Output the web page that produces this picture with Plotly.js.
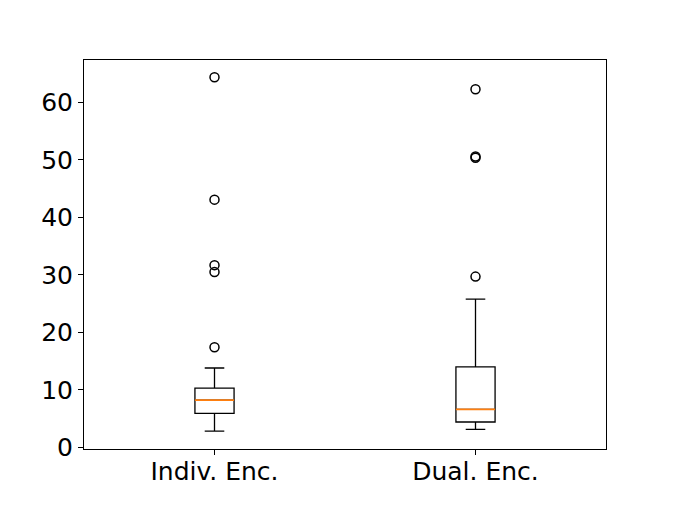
<!DOCTYPE html>
<html>
<head>
<meta charset="utf-8">
<script src="https://cdn.plot.ly/plotly-3.0.1.min.js"></script>
<style>
  body { margin: 0; background: #fff; }
  #chart { width: 674px; height: 505px; }
</style>
</head>
<body>
<div id="chart"></div>
<script>
// box stats
const positions = [1, 2];
const groupNames = ['Indiv. Enc.', 'Dual. Enc.'];
const lowerWhisker = [2.8, 3.1];
const q1Values = [5.9, 4.4];
const medianValues = [8.2, 6.6];
const q3Values = [10.3, 14.0];
const upperWhisker = [13.8, 25.8];

// fliers for each box
const outliersIndiv = [17.4, 30.5, 31.7, 43.1, 64.4];
const outliersDual = [29.7, 50.4, 50.6, 62.3];

const boxWidth = 0.15;

const traces = [];

// the black boxes
traces.push({
    type: 'box',
    x: positions,
    q1: q1Values,
    median: medianValues,
    q3: q3Values,
    lowerfence: lowerWhisker,
    upperfence: upperWhisker,
    width: boxWidth,
    whiskerwidth: 0.5,
    fillcolor: 'rgba(0,0,0,0)',
    line: { color: '#000000', width: 1.3 },
    boxpoints: false,
    hoverinfo: 'skip',
    showlegend: false
});

// orange median lines, drawn as flat boxes on top
traces.push({
    type: 'box',
    x: positions,
    q1: medianValues,
    median: medianValues,
    q3: medianValues,
    lowerfence: medianValues,
    upperfence: medianValues,
    width: boxWidth,
    whiskerwidth: 0,
    fillcolor: 'rgba(0,0,0,0)',
    line: { color: '#ff7f0e', width: 1.6 },
    boxpoints: false,
    hoverinfo: 'skip',
    showlegend: false
});

// fliers
const flierStyle = {
    type: 'scatter',
    mode: 'markers',
    marker: { symbol: 'circle-open', size: 9, color: '#000000', line: { width: 1.5, color: '#000000' } },
    hoverinfo: 'y',
    showlegend: false
};
traces.push(Object.assign({}, flierStyle, {
    x: outliersIndiv.map(() => positions[0]),
    y: outliersIndiv
}));
traces.push(Object.assign({}, flierStyle, {
    x: outliersDual.map(() => positions[1]),
    y: outliersDual
}));

const tickFont = { family: 'DejaVu Sans, sans-serif', size: 25, color: '#000000' };

const layout = {
    width: 674, height: 505,
    paper_bgcolor: '#ffffff', plot_bgcolor: '#ffffff',
    margin: { l: 84, r: 68, t: 60, b: 56 },
    boxmode: 'overlay',
    showlegend: false,
    xaxis: {
        range: [0.5, 2.5],
        tickvals: positions,
        ticktext: groupNames,
        ticks: 'outside', ticklen: 5, tickwidth: 1, tickcolor: '#000',
        ticklabelstandoff: -5,
        showline: true, mirror: true, linecolor: '#000', linewidth: 1,
        showgrid: false, zeroline: false,
        tickfont: tickFont
    },
    yaxis: {
        range: [-0.3, 67.4],
        tickvals: [0, 10, 20, 30, 40, 50, 60],
        ticks: 'outside', ticklen: 5, tickwidth: 1, tickcolor: '#000',
        showline: true, mirror: true, linecolor: '#000', linewidth: 1,
        showgrid: false, zeroline: false,
        tickfont: tickFont
    }
};

Plotly.newPlot('chart', traces, layout, { displayModeBar: false, staticPlot: true });
</script>
</body>
</html>
